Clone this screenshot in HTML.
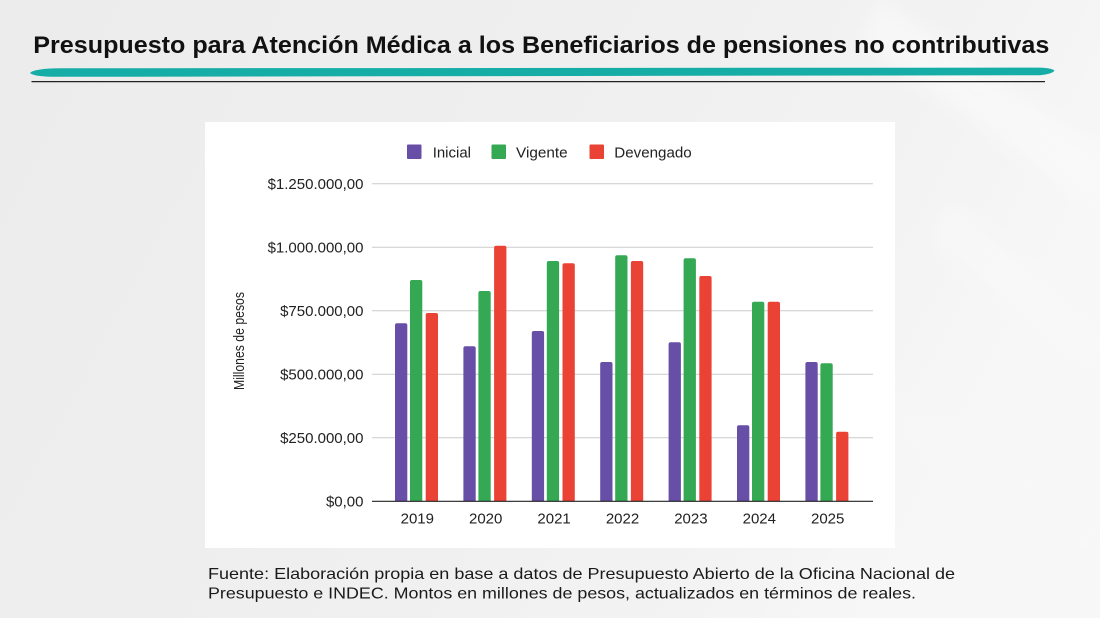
<!DOCTYPE html>
<html>
<head>
<meta charset="utf-8">
<style>
html,body{margin:0;padding:0;width:1100px;height:618px;overflow:hidden;background:#eeeeee;}
svg{display:block;}
</style>
</head>
<body>
<svg width="1100" height="618" viewBox="0 0 1100 618" xmlns="http://www.w3.org/2000/svg">
  <defs>
    <linearGradient id="bg" x1="0" y1="0" x2="1" y2="0.3">
      <stop offset="0" stop-color="#ececec"/>
      <stop offset="0.5" stop-color="#efefef"/>
      <stop offset="0.85" stop-color="#f3f3f3"/>
      <stop offset="1" stop-color="#f7f7f7"/>
    </linearGradient>
    <filter id="blur" x="-20%" y="-20%" width="140%" height="140%"><feGaussianBlur stdDeviation="8"/></filter>
  </defs>
  <rect x="0" y="0" width="1100" height="618" fill="url(#bg)"/>
  <g filter="url(#blur)" opacity="0.6">
    <path d="M880 0 L1100 150 L1100 210 L860 40 Z" fill="#fbfbfb"/>
    <path d="M950 200 L1100 330 L1100 380 L930 240 Z" fill="#f9f9f9"/>
    <path d="M900 400 L1100 520 L1100 560 L900 440 Z" fill="#f8f8f8"/>
  </g>

  <!-- Title -->
  <text x="33.3" y="53" font-family="Liberation Sans, Arial, sans-serif" font-weight="bold" font-size="24" fill="#111" textLength="1016" lengthAdjust="spacingAndGlyphs">Presupuesto para Atención Médica a los Beneficiarios de pensiones no contributivas</text>

  <!-- Teal brush stroke -->
  <path d="M30,73 Q34,68.6 60,68.3 L1040,67.6 Q1052,68 1054.5,70.6 Q1052,74 1040,75.2 L60,76.8 Q34,77 30,73 Z" fill="#16ada6"/>
  <line x1="31.5" y1="81.6" x2="1045" y2="81.6" stroke="#222" stroke-width="1.3"/>

  <!-- Chart panel -->
  <rect x="205" y="122" width="690" height="426" fill="#ffffff"/>

  <!-- Legend -->
  <g font-family="Liberation Sans, Arial, sans-serif" font-size="15" fill="#222">
    <rect x="407" y="144.5" width="14.5" height="14.5" rx="1" fill="#674ea7"/>
    <text x="432.7" y="157.5" textLength="38.3" lengthAdjust="spacingAndGlyphs">Inicial</text>
    <rect x="491.5" y="144.5" width="14.5" height="14.5" rx="1" fill="#34a853"/>
    <text x="516" y="157.5" textLength="51.7" lengthAdjust="spacingAndGlyphs">Vigente</text>
    <rect x="589.5" y="144.5" width="14.5" height="14.5" rx="1" fill="#ea4335"/>
    <text x="614.3" y="157.5" textLength="77.4" lengthAdjust="spacingAndGlyphs">Devengado</text>
  </g>

  <!-- Gridlines -->
  <g stroke="#cccccc" stroke-width="1">
    <line x1="372" y1="183.8" x2="873" y2="183.8"/>
    <line x1="372" y1="247.3" x2="873" y2="247.3"/>
    <line x1="372" y1="310.8" x2="873" y2="310.8"/>
    <line x1="372" y1="374.3" x2="873" y2="374.3"/>
    <line x1="372" y1="437.8" x2="873" y2="437.8"/>
  </g>

  <!-- Y labels -->
  <g font-family="Liberation Sans, Arial, sans-serif" font-size="15" fill="#222" text-anchor="end">
    <text x="363.5" y="189">$1.250.000,00</text>
    <text x="363.5" y="252.5">$1.000.000,00</text>
    <text x="363.5" y="316">$750.000,00</text>
    <text x="363.5" y="379.5">$500.000,00</text>
    <text x="363.5" y="443">$250.000,00</text>
    <text x="363.5" y="506.5">$0,00</text>
  </g>

  <!-- Y axis title -->
  <text transform="translate(244,341) rotate(-90)" text-anchor="middle" font-family="Liberation Sans, Arial, sans-serif" font-size="14.5" fill="#222" textLength="98" lengthAdjust="spacingAndGlyphs">Millones de pesos</text>

  <!-- Bars -->
  <g>
    <path d="M395,501.3 V325.3 Q395,323.3 397,323.3 H405.3 Q407.3,323.3 407.3,325.3 V501.3 Z" fill="#674ea7"/>
    <path d="M410,501.3 V282 Q410,280 412,280 H420.3 Q422.3,280 422.3,282 V501.3 Z" fill="#34a853"/>
    <path d="M425.7,501.3 V315 Q425.7,313 427.7,313 H436 Q438,313 438,315 V501.3 Z" fill="#ea4335"/>
    <path d="M463.4,501.3 V348.3 Q463.4,346.3 465.4,346.3 H473.7 Q475.7,346.3 475.7,348.3 V501.3 Z" fill="#674ea7"/>
    <path d="M478.4,501.3 V293 Q478.4,291 480.4,291 H488.7 Q490.7,291 490.7,293 V501.3 Z" fill="#34a853"/>
    <path d="M494.1,501.3 V247.7 Q494.1,245.7 496.1,245.7 H504.4 Q506.4,245.7 506.4,247.7 V501.3 Z" fill="#ea4335"/>
    <path d="M531.8,501.3 V333 Q531.8,331 533.8,331 H542.1 Q544.1,331 544.1,333 V501.3 Z" fill="#674ea7"/>
    <path d="M546.8,501.3 V263 Q546.8,261 548.8,261 H557.1 Q559.1,261 559.1,263 V501.3 Z" fill="#34a853"/>
    <path d="M562.5,501.3 V265.3 Q562.5,263.3 564.5,263.3 H572.8 Q574.8,263.3 574.8,265.3 V501.3 Z" fill="#ea4335"/>
    <path d="M600.2,501.3 V364 Q600.2,362 602.2,362 H610.5 Q612.5,362 612.5,364 V501.3 Z" fill="#674ea7"/>
    <path d="M615.2,501.3 V257.3 Q615.2,255.3 617.2,255.3 H625.5 Q627.5,255.3 627.5,257.3 V501.3 Z" fill="#34a853"/>
    <path d="M630.9,501.3 V263 Q630.9,261 632.9,261 H641.2 Q643.2,261 643.2,263 V501.3 Z" fill="#ea4335"/>
    <path d="M668.6,501.3 V344.3 Q668.6,342.3 670.6,342.3 H678.9 Q680.9,342.3 680.9,344.3 V501.3 Z" fill="#674ea7"/>
    <path d="M683.6,501.3 V260.3 Q683.6,258.3 685.6,258.3 H693.9 Q695.9,258.3 695.9,260.3 V501.3 Z" fill="#34a853"/>
    <path d="M699.3,501.3 V278 Q699.3,276 701.3,276 H709.6 Q711.6,276 711.6,278 V501.3 Z" fill="#ea4335"/>
    <path d="M737,501.3 V427.3 Q737,425.3 739,425.3 H747.3 Q749.3,425.3 749.3,427.3 V501.3 Z" fill="#674ea7"/>
    <path d="M752,501.3 V303.7 Q752,301.7 754,301.7 H762.3 Q764.3,301.7 764.3,303.7 V501.3 Z" fill="#34a853"/>
    <path d="M767.7,501.3 V303.7 Q767.7,301.7 769.7,301.7 H778 Q780,301.7 780,303.7 V501.3 Z" fill="#ea4335"/>
    <path d="M805.4,501.3 V364 Q805.4,362 807.4,362 H815.7 Q817.7,362 817.7,364 V501.3 Z" fill="#674ea7"/>
    <path d="M820.4,501.3 V365.3 Q820.4,363.3 822.4,363.3 H830.7 Q832.7,363.3 832.7,365.3 V501.3 Z" fill="#34a853"/>
    <path d="M836.1,501.3 V433.7 Q836.1,431.7 838.1,431.7 H846.4 Q848.4,431.7 848.4,433.7 V501.3 Z" fill="#ea4335"/>
  </g>

  <line x1="372" y1="501.3" x2="873" y2="501.3" stroke="#222" stroke-width="1.2"/>

  <!-- X labels -->
  <g font-family="Liberation Sans, Arial, sans-serif" font-size="15" fill="#222" text-anchor="middle">
    <text x="417.3" y="523.5">2019</text>
    <text x="485.7" y="523.5">2020</text>
    <text x="554.1" y="523.5">2021</text>
    <text x="622.5" y="523.5">2022</text>
    <text x="690.9" y="523.5">2023</text>
    <text x="759.3" y="523.5">2024</text>
    <text x="827.7" y="523.5">2025</text>
  </g>

  <!-- Footer -->
  <g font-family="Liberation Sans, Arial, sans-serif" font-size="16" fill="#1a1a1a">
    <text x="208" y="579" textLength="747" lengthAdjust="spacingAndGlyphs">Fuente: Elaboración propia en base a datos de Presupuesto Abierto de la Oficina Nacional de</text>
    <text x="208" y="598.5" textLength="708" lengthAdjust="spacingAndGlyphs">Presupuesto e INDEC. Montos en millones de pesos, actualizados en términos de reales.</text>
  </g>
</svg>
</body>
</html>
